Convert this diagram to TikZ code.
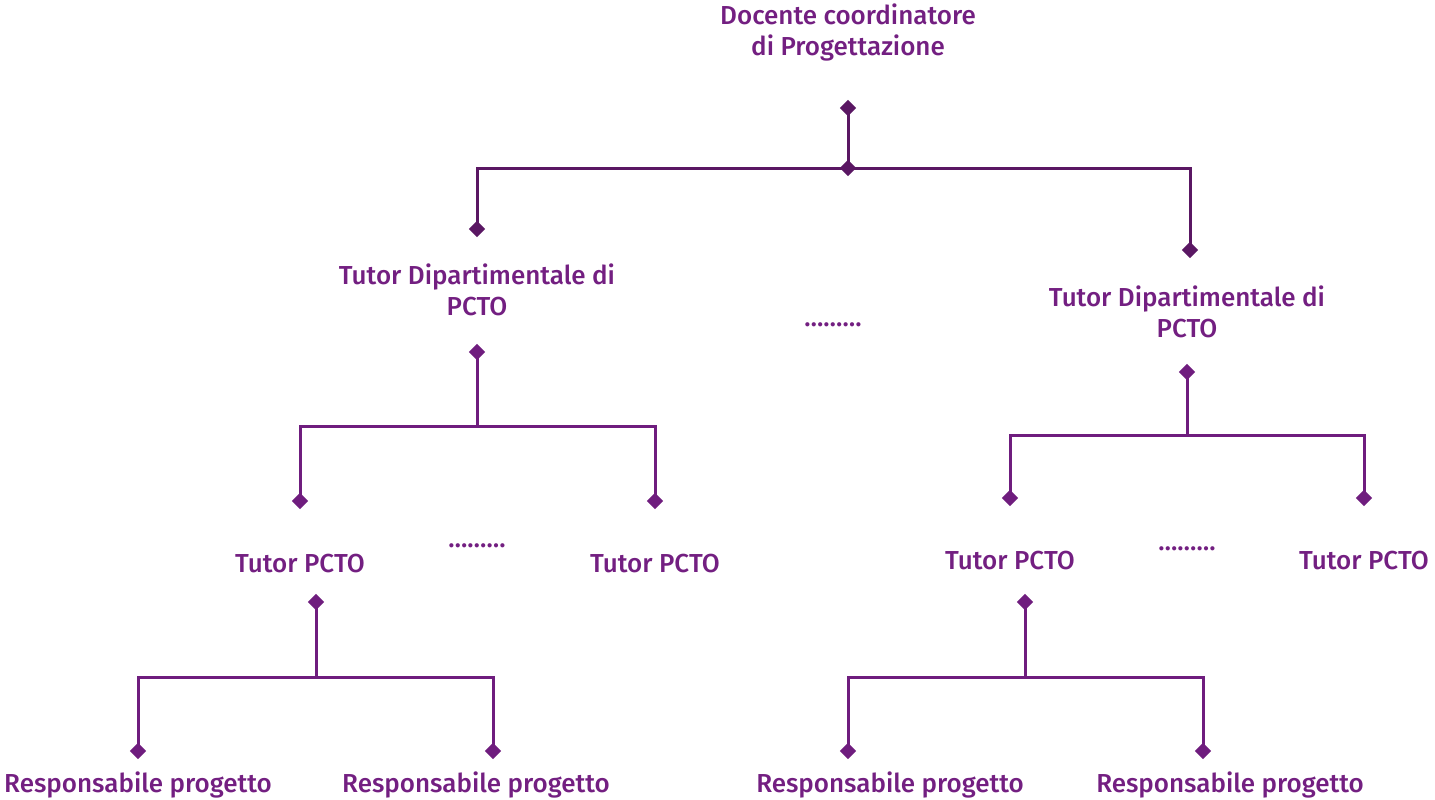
\documentclass[tikz,border=0pt]{standalone}
\usepackage{fontspec}
\setmainfont{Fira Sans Medium}
\usetikzlibrary{shapes.geometric}
\definecolor{txt}{HTML}{731F81}
\definecolor{lndark}{HTML}{5A1763}
\definecolor{ln}{HTML}{6F1D7E}
\begin{document}
\begin{tikzpicture}[x=1pt,y=-1pt,
 lbl/.style={text=txt, font=\fontsize{26}{31}\selectfont, align=center, inner sep=0pt, anchor=base},
 dm/.style={diamond, inner sep=0pt, minimum size=16pt},
 wire/.style={draw=ln, line width=3pt},
 topwire/.style={wire, draw=lndark}]
\useasboundingbox (0,0) rectangle (1435,800);
% texts (anchor = baseline of last line)
\node[lbl] (doc) at (848,56) {Docente coordinatore\\di Progettazione};
\node[lbl] (tdl) at (477,315) {Tutor Dipartimentale di\\PCTO};
\node[lbl] (tdr) at (1187,337) {Tutor Dipartimentale di\\PCTO};
\node[lbl] (dots0) at (833,326) {………};
\node[lbl] (tp1) at (300,572) {Tutor PCTO};
\node[lbl] (tp2) at (655,572) {Tutor PCTO};
\node[lbl] (dots1) at (477,547) {………};
\node[lbl] (tp3) at (1010,569) {Tutor PCTO};
\node[lbl] (tp4) at (1364,569) {Tutor PCTO};
\node[lbl] (dots2) at (1187,550) {………};
\node[lbl] (r1) at (138,792) {Responsabile progetto};
\node[lbl] (r2) at (476,792) {Responsabile progetto};
\node[lbl] (r3) at (890,792) {Responsabile progetto};
\node[lbl] (r4) at (1230,792) {Responsabile progetto};
% junction coordinates
\coordinate (j0) at (848,168);
\coordinate (j0l) at (477,168);
\coordinate (j0r) at (1190,168);
\coordinate (j1) at (477,426);
\coordinate (j1l) at (300,426);
\coordinate (j1r) at (655,426);
\coordinate (j2) at (1187,435);
\coordinate (j2l) at (1010,435);
\coordinate (j2r) at (1364,435);
\coordinate (j3) at (316,677);
\coordinate (j3l) at (138,677);
\coordinate (j3r) at (493,677);
\coordinate (j4) at (1025,677);
\coordinate (j4l) at (848,677);
\coordinate (j4r) at (1203,677);
% diamonds
\node[dm] (d0) at (848,108) {};
\node[dm] (dj0) at (j0) {};
\node[dm] (d0l) at (477,229) {};
\node[dm] (d0r) at (1190,250) {};
\node[dm] (d1) at (477,352) {};
\node[dm] (d1l) at (300,501) {};
\node[dm] (d1r) at (655,501) {};
\node[dm] (d2) at (1187,372) {};
\node[dm] (d2l) at (1010,498) {};
\node[dm] (d2r) at (1364,498) {};
\node[dm] (d3) at (316,602) {};
\node[dm] (d3l) at (138,751) {};
\node[dm] (d3r) at (493,751) {};
\node[dm] (d4) at (1025,602) {};
\node[dm] (d4l) at (848,751) {};
\node[dm] (d4r) at (1203,751) {};
% wires
\draw[topwire] (d0.center) -- (j0);
\draw[topwire] (d0l.center) -- (j0l) -- (j0r) -- (d0r.center);
\draw[wire] (d1.center) -- (j1);
\draw[wire] (d1l.center) -- (j1l) -- (j1r) -- (d1r.center);
\draw[wire] (d2.center) -- (j2);
\draw[wire] (d2l.center) -- (j2l) -- (j2r) -- (d2r.center);
\draw[wire] (d3.center) -- (j3);
\draw[wire] (d3l.center) -- (j3l) -- (j3r) -- (d3r.center);
\draw[wire] (d4.center) -- (j4);
\draw[wire] (d4l.center) -- (j4l) -- (j4r) -- (d4r.center);
% diamond marks on top of the wires
\foreach \d in {d0,dj0,d0l,d0r}
  \fill[lndark] (\d.north) -- (\d.east) -- (\d.south) -- (\d.west) -- cycle;
\foreach \d in {d1,d1l,d1r,d2,d2l,d2r,d3,d3l,d3r,d4,d4l,d4r}
  \fill[ln] (\d.north) -- (\d.east) -- (\d.south) -- (\d.west) -- cycle;
\end{tikzpicture}
\end{document}
